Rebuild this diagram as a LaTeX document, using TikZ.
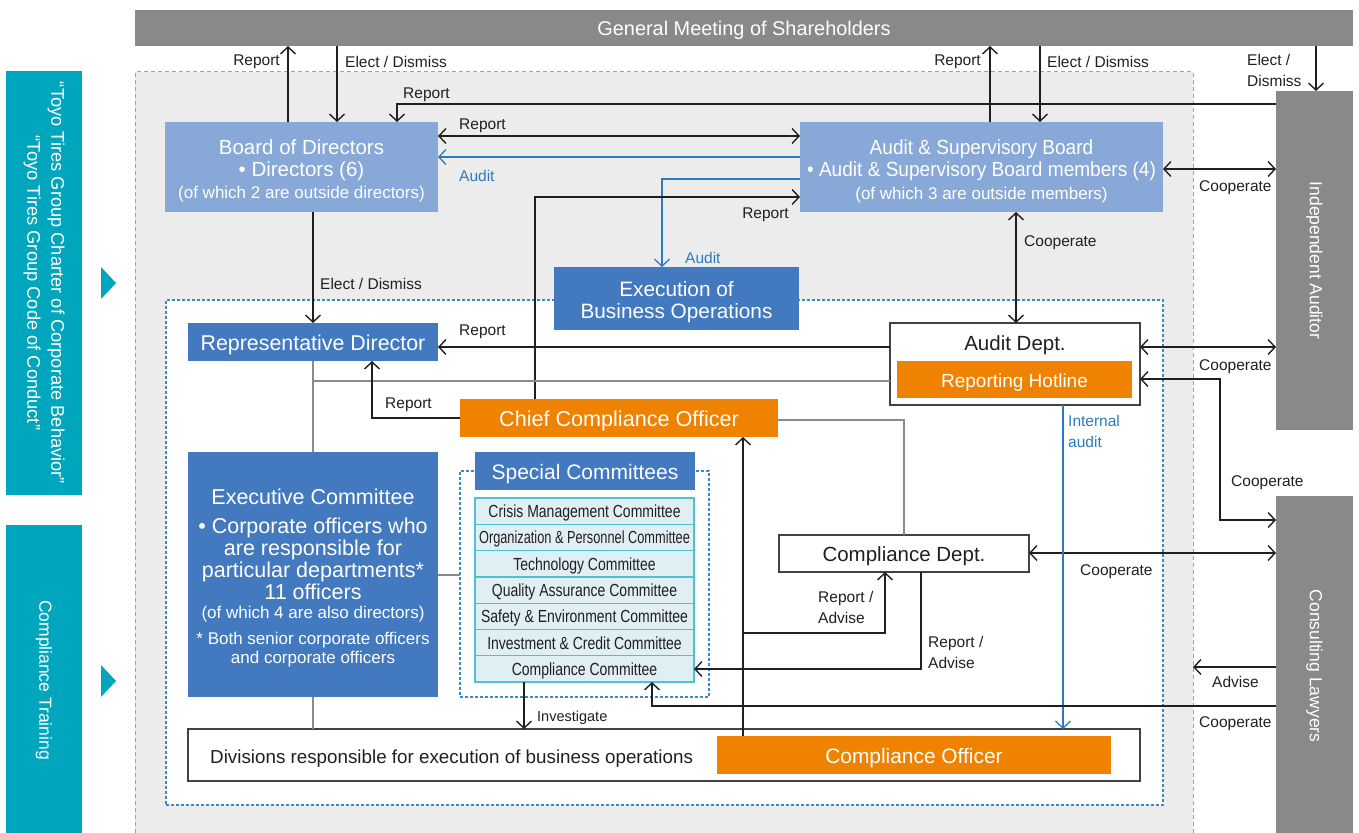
\documentclass[tikz,border=0pt]{standalone}
\usepackage{fontspec}
\setmainfont{Liberation Sans}
\newfontfamily\narrowsans[FakeStretch=0.93]{Liberation Sans}
\newfontfamily\condsans[FakeStretch=0.8]{Liberation Sans}
\newfontfamily\tightsans[FakeStretch=0.73]{Liberation Sans}
\usetikzlibrary{arrows.meta}

\definecolor{barGray}{HTML}{898989}
\definecolor{bgGray}{HTML}{EBECEB}
\definecolor{paleBlue}{HTML}{88A8D8}
\definecolor{midBlue}{HTML}{4279BF}
\definecolor{orangeC}{HTML}{EF8200}
\definecolor{tealC}{HTML}{00A6BD}
\definecolor{lineBlue}{HTML}{2B7BC0}
\definecolor{dotBlue}{HTML}{3B88CC}
\definecolor{cmtFill}{HTML}{E0EFF4}
\definecolor{cmtEdge}{HTML}{4FC1D0}
\definecolor{ink}{HTML}{231F20}
\definecolor{grayLine}{HTML}{8A8A8A}

\newcommand\fsTitle{\fontsize{20.5}{22}\selectfont}
\newcommand\fsBig{\fontsize{21.5}{22}\selectfont}
\newcommand\fsSub{\fontsize{17}{22}\selectfont}
\newcommand\fsLabel{\fontsize{15.5}{21}\selectfont}
\newcommand\fsSide{\fontsize{17.5}{21}\selectfont}
\newcommand\fsCmt{\condsans\fontsize{17.5}{18}\selectfont}
% invisible prop that lowers a multi-line block inside its box
\newcommand\lift[1]{\rule{0pt}{#1}}

\begin{document}
\begin{tikzpicture}[x=1pt,y=-1pt,
  >={Straight Barb[length=7pt,width=15pt]},
  box/.style={anchor=north west, inner sep=0pt, outer sep=0pt, align=center},
  oneline/.style={text height=16pt, text depth=-1.5pt},
  lbl/.style={inner sep=0pt, font=\fsLabel, text=ink, align=left, yshift=-2pt},
  bluelbl/.style={lbl, text=lineBlue},
  conn/.style={draw=ink, line width=1.4pt},
  arr/.style={conn, ->},
  dbl/.style={conn, <->},
  bluearr/.style={draw=lineBlue, line width=1.3pt, ->},
  graylink/.style={draw=grayLine, line width=2pt},
  whitebox/.style={box, fill=white, draw=ink!85, line width=1.3pt},
  cmt/.style={box, fill=cmtFill, draw=cmtEdge, line width=1.2pt,
    minimum width=219, minimum height=26.3, font=\fsCmt, text=ink,
    text height=13pt, text depth=0pt},
  dotframe/.style={draw=dotBlue, line width=1.5pt, dash pattern=on 3pt off 2pt},
]
\useasboundingbox (0,0) rectangle (1359,832);

% ---------- backdrops ----------
\fill[bgGray] (135,72) rectangle (1193,840);
\draw[grayLine!80, line width=1pt, dash pattern=on 4pt off 3pt] (135,840) -- (135,72) -- (1193,72) -- (1193,840);
\node[box, fill=white, dotframe, minimum width=997, minimum height=505] (inner) at (166,300) {};

% ---------- side panels ----------
\node[box, fill=tealC, minimum width=76, minimum height=424] (charter) at (6,71) {};
\node[rotate=-90, text=white, align=center, font=\fontsize{18.3}{24}\selectfont] (charterText) at (charter.center)
  {“Toyo Tires Group Charter of Corporate Behavior”\\“Toyo Tires Group Code of Conduct”};
\node[box, fill=tealC, minimum width=76, minimum height=310] (training) at (6,525) {};
\node[rotate=-90, text=white, font=\fsSide] (trainingText) at (training.center) {Compliance Training};
\fill[tealC] (101,267) -- (116,283) -- (101,299) -- cycle;
\fill[tealC] (101,665) -- (116,681) -- (101,697) -- cycle;

% ---------- main boxes ----------
\node[box, oneline, fill=barGray, text=white, minimum width=1218, minimum height=36, font=\fontsize{19.9}{22}\selectfont] (gm) at (135,10) {General Meeting of Shareholders};

\node[box, fill=paleBlue, text=white, minimum width=273, minimum height=90, font=\fsTitle] (bod) at (165,122)
  {\lift{23pt}Board of Directors\\• Directors (6)\\\fsSub (of which 2 are outside directors)};

\node[box, fill=paleBlue, text=white, minimum width=363, minimum height=90, font=\narrowsans\fsTitle] (asb) at (800,122)
  {\lift{24pt}Audit \& Supervisory Board\\• Audit \& Supervisory Board members (4)\\[1pt]\normalfont\fsSub (of which 3 are outside members)};

\node[box, fill=barGray, minimum width=77, minimum height=339] (ia) at (1276,91) {};
\node[rotate=-90, text=white, font=\fsSide] (iaText) at (ia.center) {Independent Auditor};
\node[box, fill=barGray, minimum width=77, minimum height=340] (cl) at (1276,496) {};
\node[rotate=-90, text=white, font=\fsSide] (clText) at (cl.center) {Consulting Lawyers};

\node[box, fill=midBlue, text=white, minimum width=245, minimum height=63, font=\fontsize{20.8}{22}\selectfont] (ebo) at (554,267)
  {\lift{23pt}Execution of\\Business Operations};

\node[box, oneline, fill=midBlue, text=white, minimum width=250, minimum height=38, font=\fontsize{21.4}{22}\selectfont] (rep) at (188,323)
  {Representative Director};

\node[whitebox, minimum width=250, minimum height=82] (adept) at (890,323) {};
\node[anchor=base, text=ink, font=\fsTitle, inner sep=0pt] (adeptText) at (1015,350.5) {Audit Dept.};
\node[box, oneline, fill=orangeC, text=white, minimum width=235, minimum height=37, font=\fontsize{19}{22}\selectfont] (hotline) at (897,361)
  {Reporting Hotline};

\node[box, oneline, fill=orangeC, text=white, minimum width=318, minimum height=38, font=\fontsize{21.6}{22}\selectfont] (cco) at (460,399)
  {Chief Compliance Officer};

\node[box, fill=midBlue, text=white, minimum width=250, minimum height=245, font=\fsBig] (exec) at (188,452)
  {\lift{22pt}Executive Committee\\[7pt]• Corporate officers who\\are responsible for\\particular departments*\\11 officers\\[-3pt]
   \fsSub (of which 4 are also directors)\\[4pt]\fsSub * Both senior corporate officers\\[-3pt]\fsSub and corporate officers};

% special committees
\node[box, dotframe, minimum width=249, minimum height=226] (scbox) at (460,471) {};
\node[box, oneline, fill=midBlue, text=white, minimum width=220, minimum height=38, font=\fontsize{21}{22}\selectfont] (schead) at (475,452)
  {Special Committees};
\node[cmt] (cm1) at (475,498.0) {Crisis Management Committee};
\node[cmt] (cm2) at (475,524.3) {\tightsans Organization \& Personnel Committee};
\node[cmt] (cm3) at (475,550.6) {Technology Committee};
\node[cmt] (cm4) at (475,576.9) {Quality Assurance Committee};
\node[cmt] (cm5) at (475,603.1) {Safety \& Environment Committee};
\node[cmt] (cm6) at (475,629.4) {Investment \& Credit Committee};
\node[cmt] (cm7) at (475,655.7) {Compliance Committee};

\node[whitebox, oneline, text=ink, minimum width=250, minimum height=37, font=\fsTitle] (cdept) at (779,535) {Compliance Dept.};

\node[whitebox, minimum width=952, minimum height=52] (div) at (188,729) {};
\node[anchor=base west, inner sep=0pt, text=ink, font=\fontsize{18.8}{22}\selectfont] (divText) at (210,763.7)
  {Divisions responsible for execution of business operations};
\node[box, oneline, fill=orangeC, text=white, minimum width=394, minimum height=38, font=\fontsize{20.9}{22}\selectfont] (co) at (717,736)
  {Compliance Officer};

% ---------- guide coordinates ----------
\foreach \cx in {288,313,337,372,397,524,535,652,662,743,885,904,921,990,1016,1040,1063,1193,1220,1316}
  \coordinate (c\cx) at (\cx,0);
\foreach \ry in {104,136,157,169,179,197,347,379,381,418,420,520,553,575,633,667,669,706}
  \coordinate (r\ry) at (0,\ry);

% ---------- connectors ----------
\draw[arr] (bod.north -| c288) -- (gm.south -| c288);
\draw[arr] (gm.south -| c337) -- (bod.north -| c337);
\draw[arr] (ia.west |- r104) -- (r104 -| c397) -- (bod.north -| c397);
\draw[dbl] (bod.east |- r136) -- (asb.west |- r136);
\draw[bluearr] (asb.west |- r157) -- (bod.east |- r157);
\draw[bluearr] (asb.west |- r179) -- (r179 -| c662) -- (ebo.north -| c662);
\draw[arr] (cco.north -| c535) -- (c535 |- r197) -- (asb.west |- r197);
\draw[arr] (asb.north -| c990) -- (gm.south -| c990);
\draw[arr] (gm.south -| c1040) -- (asb.north -| c1040);
\draw[arr] (gm.south -| c1316) -- (ia.north -| c1316);
\draw[dbl] (asb.east |- r169) -- (ia.west |- r169);
\draw[dbl] (asb.south -| c1016) -- (adept.north -| c1016);
\draw[arr] (bod.south -| c313) -- (rep.north -| c313);
\draw[arr] (adept.west |- r347) -- (rep.east |- r347);

\draw[graylink] (rep.south -| c313) -- (exec.north -| c313);
\draw[graylink] (adept.west |- r381) -- (r381 -| c313);
\draw[graylink] (exec.south -| c313) -- (div.north -| c313);
\draw[graylink] (cco.east |- r420) -- (r420 -| c904) -- (cdept.north -| c904);
\draw[graylink] (exec.east |- r575) -- (scbox.west |- r575);

\draw[arr] (cco.west |- r418) -- (r418 -| c372) -- (rep.south -| c372);
\draw[dbl] (adept.east |- r347) -- (ia.west |- r347);
\draw[dbl] (cl.west |- r520) -- (r520 -| c1220) -- (r379 -| c1220) -- (adept.east |- r379);
\draw[dbl] (cdept.east |- r553) -- (cl.west |- r553);
\draw[bluearr] (adept.south -| c1063) -- (div.north -| c1063);
\draw[arr] (co.north -| c743) -- (cco.south -| c743);
\draw[arr] (r633 -| c743) -- (r633 -| c885) -- (cdept.south -| c885);
\draw[arr] (cdept.south -| c921) -- (r669 -| c921) -- (cm7.east |- r669);
\coordinate (adviseEnd) at (r667 -| c1193);
\draw[arr] (cl.west |- r667) -- (adviseEnd);
\draw[arr] (cl.west |- r706) -- (r706 -| c652) -- (cm7.south -| c652);
\draw[arr] (cm7.south -| c524) -- (div.north -| c524);

% ---------- connector labels ----------
\node[lbl, anchor=east] (lRep1) at (280,60) {Report};
\node[lbl, anchor=west] (lEd1) at (345,60) {Elect / Dismiss};
\node[lbl, anchor=west] (lRep2) at (403,93) {Report};
\node[lbl, anchor=west] (lRep3) at (459,124) {Report};
\node[bluelbl, anchor=west] (lAud1) at (459,174) {Audit};
\node[lbl, anchor=east] (lRep4) at (789,213) {Report};
\node[bluelbl, anchor=west] (lAud2) at (685,256) {Audit};
\node[lbl, anchor=east] (lRep5) at (981,60) {Report};
\node[lbl, anchor=west] (lEd2) at (1047,60) {Elect / Dismiss};
\node[lbl, anchor=north west] (lEd3) at (1247,52) {Elect /\\Dismiss};
\node[lbl, anchor=west] (lCo1) at (1199,186) {Cooperate};
\node[lbl, anchor=west] (lCo2) at (1024,241) {Cooperate};
\node[lbl, anchor=west] (lEd4) at (320,282) {Elect / Dismiss};
\node[lbl, anchor=west] (lRep6) at (459,330) {Report};
\node[lbl, anchor=west] (lRep7) at (385,403) {Report};
\node[lbl, anchor=west] (lCo3) at (1199,365) {Cooperate};
\node[bluelbl, anchor=north west] (lInt) at (1068,413) {Internal\\audit};
\node[lbl, anchor=west] (lCo4) at (1231,481) {Cooperate};
\node[lbl, anchor=west] (lCo5) at (1080,570) {Cooperate};
\node[lbl, anchor=north west] (lRa1) at (818,589) {Report /\\Advise};
\node[lbl, anchor=north west] (lRa2) at (928,634) {Report /\\Advise};
\node[lbl, anchor=west] (lAdv) at (1212,680) {Advise};
\node[lbl, anchor=west] (lCo6) at (1199,722) {Cooperate};
\node[lbl, anchor=west, font=\fontsize{14.5}{18}\selectfont] (lInv) at (537,716) {Investigate};

\end{tikzpicture}
\end{document}
